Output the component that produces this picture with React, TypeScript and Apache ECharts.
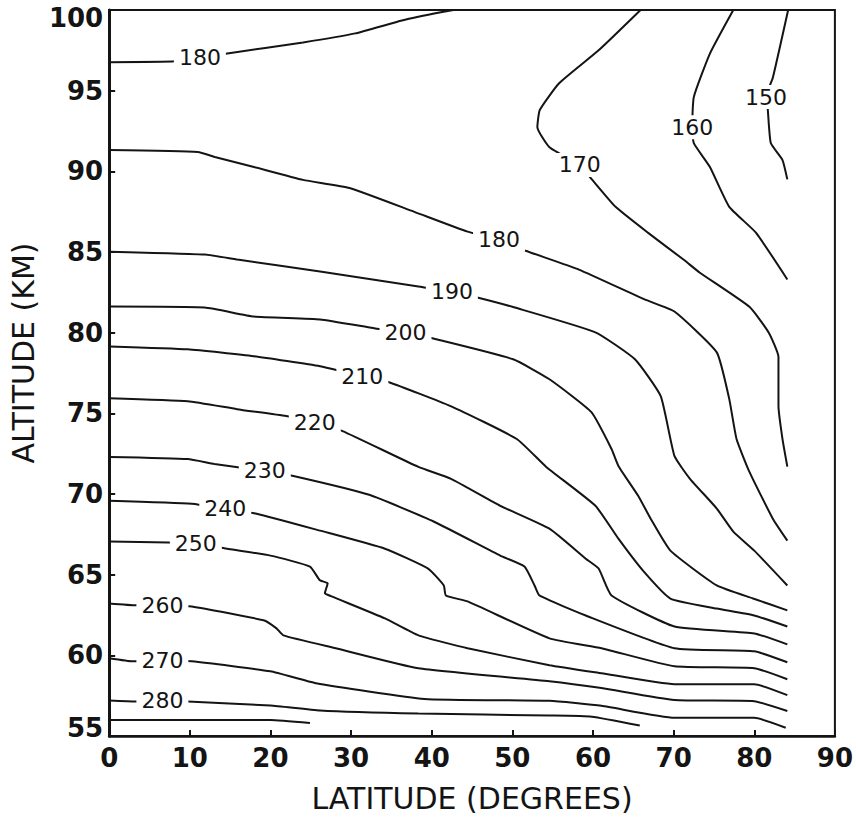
import React, { useEffect, useRef } from "react";
import * as echarts from "echarts";

// Isotherms (K): each entry is [latitude (deg), altitude (km)]
const lvl150 = [[84.2, 100], [82.3, 95.8], [81.45, 94.6], [81.65, 94.0], [82.05, 91.75], [83.5, 90.7], [84.1, 89.5]];
const lvl160 = [[77.4, 100], [74.5, 97.3], [72.5, 94.6], [72.3, 92.7], [72.5, 91.75], [74.5, 90.27], [76.9, 87.8], [80.2, 86.2], [84.1, 83.3]];
const lvl170 = [[65.9, 100], [60.7, 97.5], [55.8, 95.46], [53.4, 93.8], [53.1, 92.74], [54.6, 91.5], [58.35, 90.4], [59.7, 89.6], [62.8, 87.8], [66.8, 86.2], [71.3, 84.5], [73.3, 83.7], [79.4, 81.6], [81.8, 80.0], [83.0, 78.5], [83.0, 75.45], [83.5, 73.4], [84.1, 71.7]];
const lvl180a = [[0, 96.76], [8.2, 96.82], [11.25, 97.06], [14.65, 97.31], [24.05, 97.99], [30.5, 98.55], [36.3, 99.35], [40.3, 99.78], [42.7, 100]];
const lvl180b = [[0, 91.32], [11.0, 91.2], [13.1, 90.89], [17.95, 90.27], [24.05, 89.47], [29.8, 88.97], [37.85, 87.49], [44.45, 86.26], [48.35, 85.76], [51.3, 85.14], [58.25, 83.91], [66.4, 82.06], [70.1, 81.31], [75.35, 78.78], [76.9, 75.88], [77.8, 73.41], [79.4, 71.37], [82.3, 68.47], [84.1, 67.11]];
const lvl190 = [[0, 85.02], [11.85, 84.84], [15.9, 84.53], [26.15, 83.79], [38.35, 82.86], [42.5, 82.54], [45.65, 82.18], [50.3, 81.56], [60.3, 80.02], [65.2, 78.35], [68.4, 76.06], [70.1, 72.36], [72.0, 70.96], [75.35, 69.1], [77.4, 67.67], [80.0, 66.49], [84.1, 64.33]];
const lvl200 = [[0, 81.62], [11.85, 81.56], [17.95, 81.0], [26.15, 80.82], [33.0, 80.26], [36.75, 80.02], [40.55, 79.59], [50.1, 78.35], [54.6, 77.11], [59.8, 75.07], [62.3, 72.79], [63.15, 71.74], [65.6, 69.89], [67.15, 68.47], [69.6, 66.49], [75.35, 64.33], [79.85, 63.52], [84.1, 62.79]];
const lvl210 = [[0, 79.15], [9.75, 78.97], [17.95, 78.54], [26.15, 77.92], [31.4, 77.3], [34.7, 76.93], [42.35, 75.45], [50.55, 73.41], [54.2, 71.68], [60.3, 69.27], [63.15, 67.23], [66.2, 65.25], [69.6, 63.52], [75.35, 62.9], [80.0, 62.47], [84.1, 61.79]];
const lvl220 = [[0, 75.94], [9.75, 75.75], [15.85, 75.26], [21.95, 74.83], [25.5, 74.46], [28.95, 73.9], [38.35, 71.68], [42.4, 70.94], [48.5, 69.27], [54.6, 67.85], [59.1, 65.99], [60.7, 65.38], [62.3, 63.71], [70.1, 61.79], [80.0, 61.36], [84.1, 60.68]];
const lvl230 = [[0, 72.3], [9.75, 72.17], [13.05, 71.86], [19.3, 71.43], [22.85, 71.12], [32.25, 69.95], [40.3, 68.28], [48.5, 66.18], [51.5, 65.5], [52.75, 64.33], [53.35, 63.71], [59.1, 62.47], [70.1, 60.44], [80.0, 60.25], [84.1, 59.57]];
const lvl240 = [[0, 69.58], [10.25, 69.39], [14.4, 69.08], [18.3, 68.78], [26.15, 67.73], [34.2, 66.61], [39.55, 65.38], [41.5, 64.33], [41.75, 63.71], [44.45, 63.34], [54.6, 61.05], [61.05, 60.44], [70.1, 59.32], [80.0, 59.2], [84.1, 58.52]];
const lvl250 = [[0, 67.05], [7.35, 66.99], [10.75, 66.92], [14.65, 66.61], [20.0, 66.18], [24.9, 65.5], [26.13, 64.65], [27.1, 64.47], [26.75, 63.85], [27.5, 63.67], [34.2, 62.29], [38.35, 61.24], [44.45, 60.44], [54.6, 59.39], [61.05, 58.89], [70.1, 58.21], [80.0, 58.21], [84.1, 57.53]];
const lvl260 = [[0, 63.22], [3.3, 63.1], [6.6, 63.09], [10.25, 63.03], [19.15, 62.17], [20.75, 61.67], [21.6, 61.24], [28.1, 60.44], [38.35, 59.2], [54.6, 58.4], [61.05, 57.97], [70.1, 57.23], [80.0, 57.16], [84.1, 56.55]];
const lvl270 = [[0, 59.82], [2.95, 59.63], [6.6, 59.7], [10.25, 59.63], [20.0, 59.01], [25.65, 58.27], [39.1, 57.3], [54.6, 57.18], [61.05, 56.87], [70.1, 56.13], [80.0, 56.13], [83.9, 55.51]];
const lvl280 = [[0, 57.2], [3.3, 57.14], [6.6, 57.2], [9.75, 57.14], [20.0, 56.89], [26.15, 56.58], [38.35, 56.39], [54.6, 56.27], [59.85, 56.2], [65.8, 55.65]];
const lvl290 = [[0, 55.99], [20.0, 55.99], [24.9, 55.81]];

const contours = [lvl150, lvl160, lvl170, lvl180a, lvl180b, lvl190, lvl200, lvl210, lvl220, lvl230, lvl240, lvl250, lvl260, lvl270, lvl280, lvl290];

// Contour labels: level and where it sits on its line
const labelLevels = [150, 160, 170, 180, 180, 190, 200, 210, 220, 230, 240, 250, 260, 270, 280];
const labelLat = [81.45, 72.3, 58.35, 11.25, 48.35, 42.5, 36.75, 31.4, 25.5, 19.3, 14.4, 10.75, 6.6, 6.6, 6.6];
const labelAlt = [94.6, 92.74, 90.4, 97.06, 85.76, 82.54, 80.02, 77.3, 74.46, 71.43, 69.08, 66.92, 63.09, 59.7, 57.2];

const FONT = "DejaVu Sans";
const INK = "#141414";

export default function App() {
  const ref = useRef<HTMLDivElement>(null);

  useEffect(() => {
    if (!ref.current) return;
    const chart = echarts.init(ref.current, undefined, { renderer: "svg" });

    const lineSeries = contours.map((pts) => ({
      type: "line",
      data: pts,
      symbol: "none",
      showSymbol: false,
      smooth: 0.15,
      silent: true,
      z: 2,
      lineStyle: { color: INK, width: 2 },
    }));

    const labelSeries = {
      type: "scatter",
      data: labelLevels.map((lv, i) => [labelLat[i], labelAlt[i], lv]),
      symbolSize: 1,
      itemStyle: { color: "rgba(255,255,255,0)", opacity: 1 },
      silent: true,
      z: 5,
      label: {
        show: true,
        position: "inside",
        formatter: (p: any) => String(p.value[2]),
        fontFamily: FONT,
        fontSize: 22,
        color: INK,
        opacity: 1,
        backgroundColor: "#fff",
        padding: [1, 5],
      },
    };

    const tickFont = { fontFamily: FONT, fontSize: 26, fontWeight: "bold" as const, color: INK };

    chart.setOption({
      animation: false,
      backgroundColor: "#fff",
      grid: {
        left: 103,
        top: 10,
        width: 737,
        height: 728,
        show: true,
        borderColor: INK,
        borderWidth: 2,
        backgroundColor: "transparent",
      },
      xAxis: {
        type: "value",
        min: 0,
        max: 90,
        interval: 10,
        name: "LATITUDE (DEGREES)",
        nameLocation: "middle",
        nameGap: 47,
        nameTextStyle: { fontFamily: FONT, fontSize: 30, color: INK },
        axisLine: { show: true, onZero: false, lineStyle: { color: INK, width: 2.5 } },
        axisTick: { show: true, inside: true, length: 6, lineStyle: { color: INK, width: 2 } },
        axisLabel: { ...tickFont, margin: 9 },
        splitLine: { show: false },
      },
      yAxis: {
        type: "value",
        min: 55,
        max: 100,
        interval: 5,
        name: "ALTITUDE (KM)",
        nameLocation: "middle",
        nameGap: 43,
        nameTextStyle: { fontFamily: FONT, fontSize: 30, color: INK, padding: [0, 0, 0, 40] },
        axisLine: { show: true, onZero: false, lineStyle: { color: INK, width: 3 } },
        axisTick: { show: true, inside: true, length: 6, lineStyle: { color: INK, width: 2 } },
        axisLabel: {
          ...tickFont,
          margin: 6,
          formatter: (v: number) => (v === 100 ? `{hi|${v}}` : v === 55 ? `{lo|${v}}` : `${v}`),
          rich: {
            hi: { ...tickFont, padding: [16, 0, 0, 0] },
            lo: { ...tickFont, padding: [0, 0, 16, 0] },
          },
        },
        splitLine: { show: false },
      },
      series: [...lineSeries, labelSeries],
    });

    return () => chart.dispose();
  }, []);

  return (
    <div
      ref={ref}
      style={{ position: "fixed", left: 0, top: 0, width: 856, height: 818, background: "#fff" }}
    />
  );
}
